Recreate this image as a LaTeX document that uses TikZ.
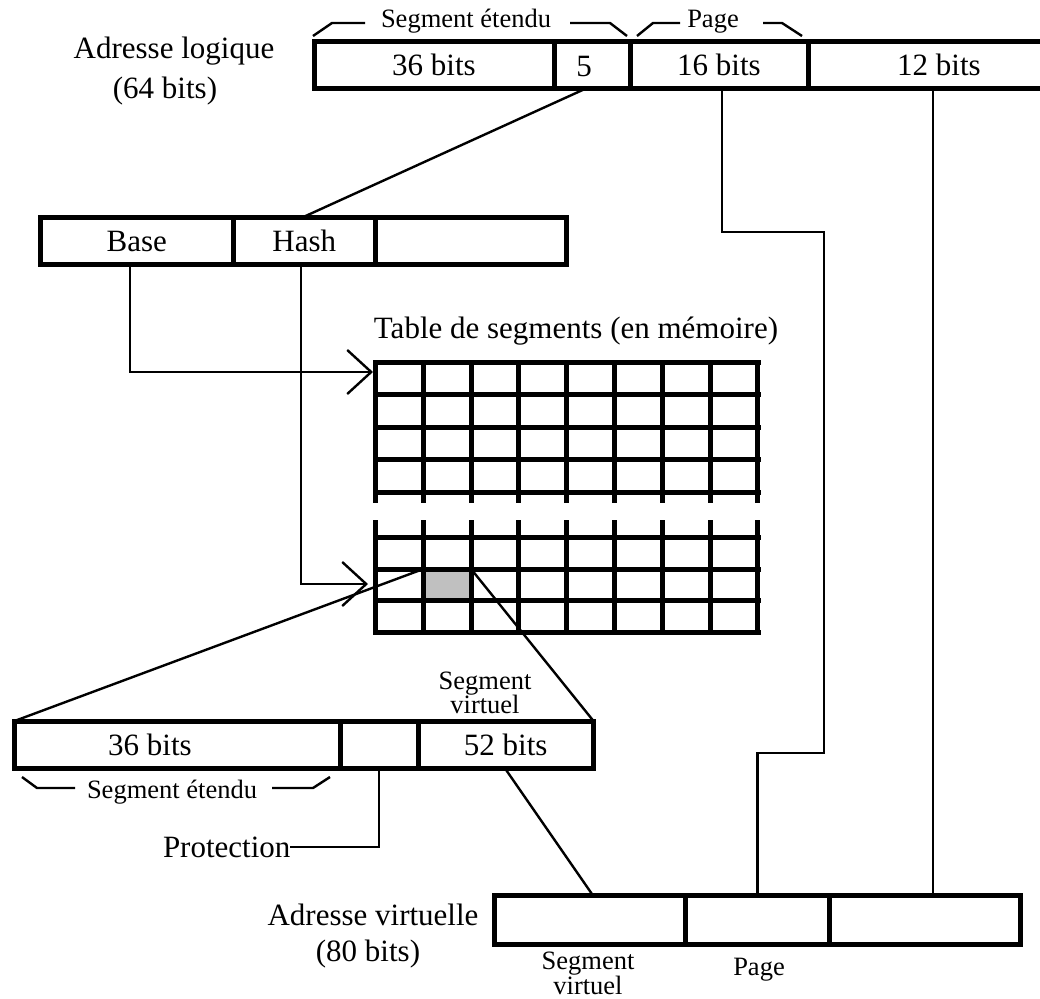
\documentclass[tikz,border=0pt]{standalone}
\usepackage{fontspec}
\setmainfont{Liberation Serif}
\usetikzlibrary{arrows.meta}
\definecolor{cellgray}{HTML}{C0C0C0}
\begin{document}
\begin{tikzpicture}[x=1pt,y=-1pt,
  cell/.style={draw,line width=5pt,inner sep=0pt,outer sep=0pt,minimum height=#1,
               font=\fontsize{31}{36}\selectfont},
  big/.style={font=\fontsize{31}{36}\selectfont,inner sep=0pt,outer sep=0pt},
  small/.style={font=\fontsize{26.5}{22}\selectfont,inner sep=0pt,outer sep=0pt},
  wire/.style={draw,line width=2.4pt,line join=miter},
  arr/.style={wire,-{Straight Barb[length=24pt,width=44pt]}},
  grid line/.style={line width=5pt}
]
\useasboundingbox (0,0) rectangle (1040,998);

% ---------- logical address (64 bits) ----------
\node[big,anchor=base] (lal1) at (174,59) {Adresse logique};
\node[big,anchor=base] (lal2) at (165,98) {(64 bits)};
\node[cell=46pt,minimum width=240pt] (t36) at (434,65) {36 bits};
\node[cell=46pt,minimum width=76pt]  (t5)  at (592,65) {};
\node[big,anchor=base] (t5txt) at (584,76) {5};
\node[cell=46pt,minimum width=178pt] (t16) at (719,65) {16 bits};
\node[cell=46pt,minimum width=262pt] (t12) at (939,65) {12 bits};

% braces above the logical address
\node[small,anchor=base] (segext) at (466,28) {Segment étendu};
\draw[wire] (313,36) -- (332,23) -- (365,23);
\draw[wire] (570,23) -- (610,23) -- (627,36);
\node[small,anchor=base] (pagelbl) at (713,28) {Page};
\draw[wire] (637,36) -- (653,23) -- (680,23);
\draw[wire] (763,23) -- (782,23) -- (802,36);

% ---------- base / hash register ----------
\node[cell=47pt,minimum width=193.5pt] (mbase) at (136.75,241) {Base};
\node[cell=47pt,minimum width=141.5pt] (mhash) at (304.25,241) {Hash};
\node[cell=47pt,minimum width=191.5pt] (mrest) at (470.75,241) {};

% ---------- segment table ----------
\node[big,anchor=base] (ttitle) at (576,338) {Table de segments (en mémoire)};
\node[fill=cellgray,inner sep=0pt,outer sep=0pt,minimum width=47.8pt,minimum height=31.5pt]
  (hit) at (447.2,584.75) {};
% upper block
\foreach \k in {0,...,4}
  \draw[grid line,line cap=rect] (375.5,362.5+32.4*\k) -- (758,362.5+32.4*\k);
\foreach \c in {0,...,8}
  \draw[grid line] (375.5+47.8*\c,362.5) -- (375.5+47.8*\c,503);
% lower block
\foreach \y in {537.5,569,600.5,632}
  \draw[grid line,line cap=rect] (375.5,\y) -- (758,\y);
\foreach \c in {0,...,8}
  \draw[grid line] (375.5+47.8*\c,520) -- (375.5+47.8*\c,632);
\coordinate (tbase) at (373,372);
\coordinate (thash) at (368,584);

% ---------- segment table entry ----------
\node[small,anchor=base] (sv1) at (485,689) {Segment};
\node[small,anchor=base] (sv2) at (485,713) {virtuel};
\node[cell=47pt,minimum width=325.5pt] (l36) at (177.25,744.5) {};
\node[big,anchor=base] (l36txt) at (150,755) {36 bits};
\node[cell=47pt,minimum width=78pt] (lprot) at (379,744.5) {};
\node[cell=47pt,minimum width=175.5pt] (l52) at (505.75,744.5) {52 bits};
\node[small,anchor=base] (segext2) at (172,798) {Segment étendu};
\draw[wire] (22,777) -- (37,788) -- (75,788);
\draw[wire] (272,788) -- (313,788) -- (330,777);
\node[big,anchor=base west] (prot) at (163,857) {Protection};

% ---------- virtual address (80 bits) ----------
\node[big,anchor=base] (val1) at (373,925) {Adresse virtuelle};
\node[big,anchor=base] (val2) at (368,961) {(80 bits)};
\node[cell=49pt,minimum width=191pt] (vseg)  at (590,920) {};
\node[cell=49pt,minimum width=144pt] (vpage) at (757.5,920) {};
\node[cell=49pt,minimum width=191pt] (voff)  at (925,920) {};
\node[small,anchor=base] (bsv1) at (588,969) {Segment};
\node[small,anchor=base] (bsv2) at (588,994) {virtuel};
\node[small,anchor=base] (bpage) at (759,975) {Page};

% ---------- connectors ----------
\draw[wire] ([xshift=-5pt]t5.south) -- ([xshift=-2pt]mhash.north);
\draw[arr] ([xshift=-7pt]mbase.south) |- (tbase);
\draw[arr] ([xshift=-3pt]mhash.south) |- (thash);
\draw[wire] (hit.north west) -- (l36.north west);
\draw[wire] (hit.north east) -- (l52.north east);
\draw[wire] (lprot.south) |- (prot.east);
\draw[wire] ([xshift=-1pt]l52.south) -- ([xshift=3pt]vseg.north);
\draw[wire] ([xshift=3pt]t16.south) -- (722,232) -- (824,232) -- (824,753)
            -- (757.5,753) -- (vpage.north);
\coordinate (offx) at (933,0);
\draw[wire] (t12.south -| offx) -- (voff.north -| offx);
\end{tikzpicture}
\end{document}
